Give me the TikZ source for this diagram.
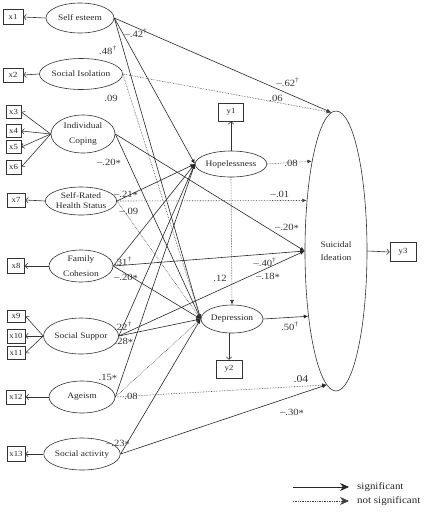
\documentclass[tikz,border=0pt]{standalone}
\usepackage{fontspec}
\setmainfont{Liberation Serif}[FakeStretch=1.12]
\usetikzlibrary{arrows.meta,shapes.geometric}
\newcommand\mydag{\textsuperscript{†}}
\newcommand\mystar{\raisebox{-1.2pt}{*}}
\begin{document}
\begin{tikzpicture}[x=1pt,y=-1pt,
 lat/.style={ellipse,draw=black!80,line width=0.6pt,inner sep=0pt,align=center,font=\fontsize{8.4}{10}\selectfont,text=black!85},
 obs/.style={rectangle,draw=black!80,line width=0.6pt,inner sep=0pt,font=\fontsize{7.8}{9}\selectfont,text=black!85},
 sig/.style={draw=black!85,line width=0.6pt,-{Latex[length=4.5pt,width=3.8pt]}},
 ns/.style={draw=black!75,line width=0.6pt,densely dotted,-{Latex[length=4.5pt,width=3.8pt]}},
 meas/.style={draw=black!80,line width=0.6pt,-{Straight Barb[length=2.5pt,width=5.5pt]}},
 coef/.style={font=\fontsize{9.5}{10}\selectfont,text=black!80,inner sep=0pt},
 legsig/.style={draw=black!85,line width=0.7pt,-{Stealth[length=9pt,width=8pt]}},
 legns/.style={draw=black!75,line width=0.7pt,densely dotted,-{Stealth[length=9pt,width=8pt]}},
 legtext/.style={font=\fontsize{9.8}{11}\selectfont,text=black!85,inner sep=0pt,anchor=west}
]
\useasboundingbox (0,0) rectangle (425,515);

% latent variables
\node[lat,minimum width=68pt,minimum height=30pt] (se) at (80,18) {Self esteem};
\node[lat,minimum width=64pt,minimum height=31pt] (soi) at (81,74) {Social Isolation};
\node[lat,minimum width=64pt,minimum height=38pt,font=\fontsize{8.4}{15}\selectfont] (ic) at (83,134) {Individual\\Coping};
\node[lat,minimum width=64pt,minimum height=28pt,font=\fontsize{8.4}{10}\selectfont] (srh) at (81,201) {Self-Rated\\Health Status};
\node[lat,minimum width=64pt,minimum height=32pt,font=\fontsize{8.4}{15}\selectfont] (fc) at (81,266) {Family\\Cohesion};
\node[lat,minimum width=64pt,minimum height=36pt] (ss) at (81,336) {Social Suppor};
\node[lat,minimum width=66pt,minimum height=32pt] (ag) at (82,397) {Ageism};
\node[lat,minimum width=66pt,minimum height=32pt] (sa) at (82,454) {Social activity};
\node[lat,minimum width=64pt,minimum height=26pt] (hop) at (231,164) {Hopelessness};
\node[lat,minimum width=62pt,minimum height=28pt] (dep) at (232,319) {Depression};
\node[lat,minimum width=62pt,minimum height=280pt,font=\fontsize{8.4}{13}\selectfont] (sui) at (336,251) {Suicidal\\Ideation};

% observed variables
\node[obs,minimum width=20pt,minimum height=15pt] (x1) at (13,17) {x1};
\node[obs,minimum width=20pt,minimum height=14pt] (x2) at (13,75) {x2};
\node[obs,minimum width=15pt,minimum height=13pt] (x3) at (13.5,112) {x3};
\node[obs,minimum width=15pt,minimum height=13pt] (x4) at (13.5,131) {x4};
\node[obs,minimum width=15pt,minimum height=13pt] (x5) at (13.5,147) {x5};
\node[obs,minimum width=15pt,minimum height=14pt] (x6) at (13.5,167) {x6};
\node[obs,minimum width=18pt,minimum height=14pt] (x7) at (16,200) {x7};
\node[obs,minimum width=17pt,minimum height=15pt] (x8) at (16,266) {x8};
\node[obs,minimum width=18pt,minimum height=12pt] (x9) at (16,316) {x9};
\node[obs,minimum width=18pt,minimum height=14pt] (x10) at (16,336) {x10};
\node[obs,minimum width=18pt,minimum height=13pt] (x11) at (16,353) {x11};
\node[obs,minimum width=19pt,minimum height=14pt] (x12) at (16,397) {x12};
\node[obs,minimum width=18pt,minimum height=15pt] (x13) at (16,454) {x13};
\node[obs,minimum width=25pt,minimum height=18pt] (y1) at (231,112) {y1};
\node[obs,minimum width=26pt,minimum height=18pt] (y2) at (229,369) {y2};
\node[obs,minimum width=26pt,minimum height=19pt] (y3) at (403,252) {y3};

% measurement arrows
\draw[meas] (se.west) -- (x1.east);
\draw[meas] (soi.west) -- (x2.east);
\draw[meas] (ic.west) -- (x3.east);
\draw[meas] (ic.west) -- (x4.east);
\draw[meas] (ic.west) -- (x5.east);
\draw[meas] (ic.west) -- (x6.east);
\draw[meas] (srh.west) -- (x7.east);
\draw[meas] (fc.west) -- (x8.east);
\draw[meas] (ss.west) -- (x9.east);
\draw[meas] (ss.west) -- (x10.east);
\draw[meas] (ss.west) -- (x11.east);
\draw[meas] (ag.west) -- (x12.east);
\draw[meas] (sa.west) -- (x13.east);
\draw[meas] (hop.north) -- (y1.south);
\draw[meas] (dep.south -| y2.north) -- (y2.north);
\draw[meas] (sui.east) -- (y3.west);

% structural paths
\draw[sig] (se.east) -- (sui.92);
\draw[sig] (se.east) -- (hop.west);
\draw[sig] (se.east) -- (dep.west);
\draw[ns] (soi.east) -- (sui.92);
\draw[ns] (soi.east) -- (dep.west);
\draw[sig] (ic.east) -- (sui.west);
\draw[sig] (ic.east) -- (dep.west);
\draw[sig] (srh.east) -- (hop.west);
\draw[ns] (srh.east) -- (sui.120);
\draw[ns] (srh.east) -- (dep.west);
\draw[sig] (fc.east) -- (hop.west);
\draw[sig] (fc.east) -- (sui.west);
\draw[sig] (fc.east) -- (dep.west);
\draw[sig] (ss.east) -- (hop.west);
\draw[sig] (ss.east) -- (sui.west);
\draw[sig] (ss.east) -- (dep.west);
\draw[sig] (ag.east) -- (hop.west);
\draw[ns] (ag.east) -- (dep.west);
\draw[ns] (ag.east) -- (sui.266);
\draw[sig] (sa.east) -- (dep.west);
\draw[sig] (sa.east) -- (sui.266);
\draw[ns] (hop.east) -- (sui.105.6);
\draw[ns] (hop.south) -- (dep.north);
\draw[sig] (dep.east) -- (sui.247.9);

% coefficients
\node[coef] (c1) at (136,33) {–.42\mydag};
\node[coef] (c2) at (108,50) {.48\mydag};
\node[coef] (c3) at (111,98) {.09};
\node[coef] (c4) at (109,163) {–.20\mystar};
\node[coef] (c5) at (126,195) {–.21\mystar};
\node[coef] (c6) at (129,211) {–.09};
\node[coef] (c7) at (123,261) {.31\mydag};
\node[coef] (c8) at (126,278) {–.20\mystar};
\node[coef] (c9) at (123,326) {.22\mydag};
\node[coef] (c10) at (124,342) {.28\mystar};
\node[coef] (c11) at (108,378) {.15\mystar};
\node[coef] (c12) at (131,396) {.08};
\node[coef] (c13) at (118,444) {–.23\mystar};
\node[coef] (c14) at (288,82) {–.62\mydag};
\node[coef] (c15) at (276,98) {.06};
\node[coef] (c16) at (291,163) {.08};
\node[coef] (c17) at (280,194) {–.01};
\node[coef] (c18) at (287,228) {–.20\mystar};
\node[coef] (c19) at (265,262) {–.40\mydag};
\node[coef] (c20) at (268,277) {–.18\mystar};
\node[coef] (c21) at (220,278) {.12};
\node[coef] (c22) at (290,326) {.50\mydag};
\node[coef,font=\fontsize{10.5}{12}\selectfont] (c23) at (301,379) {.04};
\node[coef] (c24) at (292,413) {–.30\mystar};

% legend
\coordinate (l1a) at (293,487);
\coordinate (l2a) at (293,501);
\node[legtext] (lt1) at (357,487) {significant};
\node[legtext] (lt2) at (357,501) {not significant};
\draw[legsig] (l1a) -- ([xshift=-8pt]lt1.west);
\draw[legns] (l2a) -- ([xshift=-8pt]lt2.west);
\end{tikzpicture}
\end{document}
